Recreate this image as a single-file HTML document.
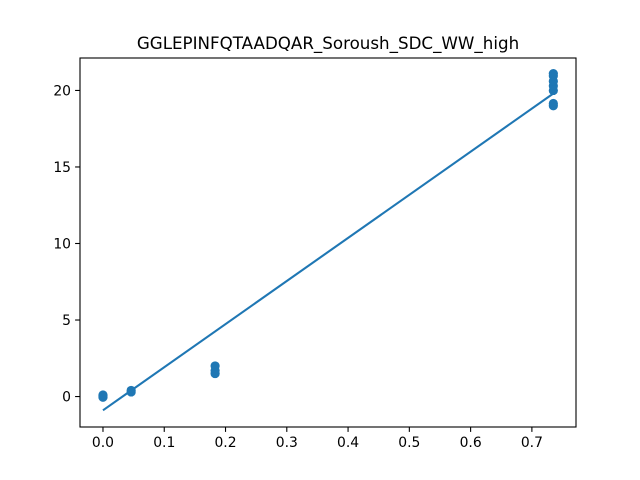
<!DOCTYPE html>
<html><head><meta charset="utf-8"><style>body{margin:0;background:#fff}svg{display:block}text{font-family:"DejaVu Sans","Liberation Sans",sans-serif}</style></head>
<body>
<svg id="c" width="640" height="480"></svg>
<script>
const xs=[0,0,0,0,0.046,0.046,0.183,0.183,0.183,0.735,0.735,0.735,0.735,0.735,0.735,0.735];
const ys=[0,0.05,-0.05,0.1,0.3,0.4,1.5,1.7,2.0,19.0,19.15,20.0,20.3,20.6,20.95,21.1];
const fitX=[0,0.735];
const fitY=[-0.9,19.8];
const xTicks=[0,0.1,0.2,0.3,0.4,0.5,0.6,0.7];
const yTicks=[0,5,10,15,20];
const svg=document.getElementById('c');const NS='http://www.w3.org/2000/svg';
const L=80,R=576,T=58,B=427,x0=-0.0375,x1=0.772,y0=-1.99,y1=22.12;
const X=v=>L+(v-x0)/(x1-x0)*(R-L),Y=v=>B-(v-y0)/(y1-y0)*(B-T);
function mk(t,a,p){const e=document.createElementNS(NS,t);for(const k in a)e.setAttribute(k,a[k]);(p||svg).appendChild(e);return e;}
const t=mk('text',{x:328,y:49,'text-anchor':'middle','font-size':16.7,fill:'#000'});t.textContent='GGLEPINFQTAADQAR_Soroush_SDC_WW_high';


xs.forEach((v,i)=>{const c=mk('circle',{cx:X(v),cy:Y(ys[i]),r:4.6,fill:'#1f77b4'});

});
const ln=mk('line',{x1:X(fitX[0]),y1:Y(fitY[0]),x2:X(fitX[1]),y2:Y(fitY[1]),stroke:'#1f77b4','stroke-width':2.1});


const fr=mk('rect',{x:L,y:T,width:R-L,height:B-T,fill:'none',stroke:'#000','stroke-width':1.1});


xTicks.forEach(v=>{const x=X(v);mk('line',{x1:x,x2:x,y1:B,y2:B+4.9,stroke:'#000','stroke-width':1.1});
const tx=mk('text',{x:x,y:B+20,'text-anchor':'middle','font-size':13.9,fill:'#000'});tx.textContent=v.toFixed(1);

});
yTicks.forEach(v=>{const y=Y(v);mk('line',{x1:L,x2:L-4.9,y1:y,y2:y,stroke:'#000','stroke-width':1.1});
const tx=mk('text',{x:L-9,y:y+5,'text-anchor':'end','font-size':13.9,fill:'#000'});tx.textContent=v;

});
</script>
</body></html>
